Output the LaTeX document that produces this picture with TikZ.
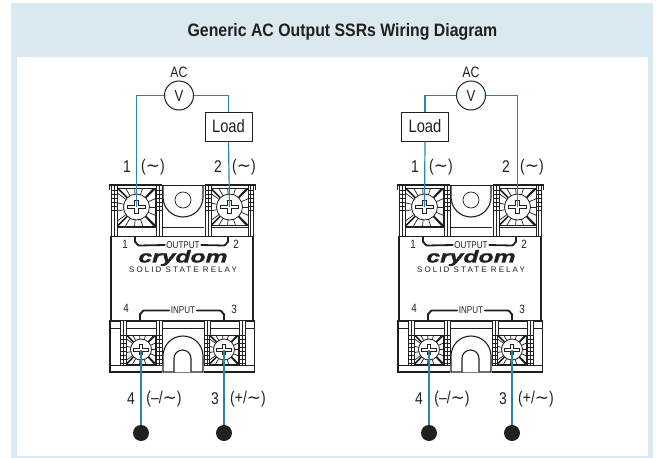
\documentclass[tikz,border=0pt]{standalone}
\usepackage{fontspec}
\setmainfont[FakeStretch=0.82]{Liberation Sans}
\newfontfamily\titlefont[FakeStretch=0.88]{Liberation Sans}
\newfontfamily\symfont{DejaVu Sans}
\newfontfamily\crydomfont[FakeStretch=1.45,FakeBold=1.5]{Liberation Sans}
\newfontfamily\spacedfont[LetterSpace=26]{Liberation Sans}
\definecolor{panel}{HTML}{D9E9EF}
\definecolor{wire}{HTML}{2C84AC}
\definecolor{ink}{HTML}{231F20}
\newcommand{\wav}{{\symfont ∼}}
\tikzset{
  x=1pt,y=-1pt,
  wireline/.style={wire,line width=1.2pt},
  lab/.style={font=\fontsize{17}{17}\selectfont,text=ink,inner sep=0pt},
  tiny/.style={font=\fontsize{9.8}{10}\selectfont,text=ink,inner sep=0pt},
  pinno/.style={font=\fontsize{12}{12}\selectfont,text=ink,inner sep=0pt},
  body/.style={ink,line width=0.8pt},
  heavy/.style={ink,line width=1.8pt,line cap=round,line join=round},
  loadbox/.style={draw=ink,line width=1pt,fill=white,minimum width=47pt,minimum height=29pt,inner sep=0pt,font=\fontsize{18}{18}\selectfont,text=ink},
  meter/.style={circle,draw=ink,line width=1pt,fill=white,minimum size=29pt,inner sep=0pt,font=\fontsize{16}{16}\selectfont,text=ink},
  endpoint/.style={circle,fill=ink,minimum size=16pt,inner sep=0pt},
  screwnode/.style={circle,minimum size=2pt,inner sep=0pt},
}
% screw: #1 name, #2 cx, #3 cy, #4 half box, #5 radius
\newcommand{\screw}[5]{%
  \begin{scope}[shift={(#2,#3)}]
    \begin{scope}
      \clip (-#4,-#4) rectangle (#4,#4);
      \fill[white] (-#4,-#4) rectangle (#4,#4);
      \foreach \a in {0,24,...,336}
        \draw[ink,line width=0.7pt] (0,0) -- (\a:#4*1.5);
      \foreach \a in {45,135,225,315}
        \draw[ink,line width=1.5pt] (0,0) -- (\a:#4*1.5);
    \end{scope}
    \draw[body] (-#4,-#4) rectangle (#4,#4);
    \fill[white] (0,0) circle (#5);
    \draw[ink,line width=0.8pt] (0,0) circle (#5);
    \draw[ink,line width=0.8pt,fill=white] (-#5*0.72,-1.6) -- (-1.8,-1.6) -- (-1.8,-#5*0.5) -- (1.8,-#5*0.5) -- (1.8,-1.6) -- (#5*0.72,-1.6) -- (#5*0.72,1.6) -- (1.8,1.6) -- (1.8,#5*0.5) -- (-1.8,#5*0.5) -- (-1.8,1.6) -- (-#5*0.72,1.6) -- cycle;
    \node[screwnode] (#1) at (0,0) {};
  \end{scope}}
% ribbed column: x #1 to #2, y #3 to #4, cross ticks from y #5 to y #6
\newcommand{\rib}[6]{%
  \fill[white] (#1,#3) rectangle (#2,#4);
  \draw[ink,line width=1pt] (#1,#3) -- (#1,#4) (#2,#3) -- (#2,#4);
  \draw[ink,line width=0.8pt] ({(#1+#2)/2},#3) -- ({(#1+#2)/2},#4);
  \pgfmathsetmacro{\ynext}{#5+4}
  \foreach \yy in {#5,\ynext,...,#6}
    \draw[ink,line width=0.5pt] (#1,\yy) -- (#2,\yy);}
% relay: #1 prefix, #2 x shift
\newcommand{\relay}[2]{%
\begin{scope}[xshift=#2 pt]
  % body
  \draw[body,line width=1.1pt] (111,236) -- (111,321) (253,236) -- (253,321);
  % top blocks
  \draw[body] (162,185) -- (205,185);
  \draw[body] (162,185) -- (162,236) (205,185) -- (205,236);
  \draw[body,line width=1.1pt] (163,186) -- (163,197) arc[start angle=180,end angle=0,radius=20] -- (203,186);
  \draw[body] (163,227) -- (204,227);
  \draw[body] (111,236) -- (253,236);
  \rib{111}{117}{186}{236}{190}{212}
  \rib{156}{162}{186}{236}{190}{212}
  \rib{205}{211}{186}{236}{190}{212}
  \rib{248}{253}{186}{236}{190}{212}
  \screw{#1s1}{136.5}{207}{19}{13}
  \screw{#1s2}{229.5}{207}{18.5}{13}
  \fill[white] (118,226.5) rectangle (155,235.5);
  \fill[white] (212,226.5) rectangle (247,235.5);
  \draw[body] (117,227) -- (156,227) (211,227) -- (248,227);
  \draw[ink,line width=2.4pt] (109,185) -- (162,185) (205,185) -- (256,185);
  \draw[ink,line width=1.4pt] (109.5,185) -- (109.5,190) (255.5,185) -- (255.5,190);
  \node[circle,draw=ink,line width=0.7pt,minimum size=16pt,inner sep=0pt] (#1hole) at (183,200) {};
  % output marking
  \node[pinno] (#1t1) at (125,244) {1};
  \node[pinno] (#1t2) at (236,244) {2};
  \node[tiny] (#1out) at (183,245) {OUTPUT};
  \draw[heavy] (135,237) -- (135,242) to[out=90,in=180] (139,245.5) -- ([xshift=-1.5pt]#1out.west);
  \draw[heavy] ([xshift=1.5pt]#1out.east) -- (224,245.5) to[out=0,in=90] (228,242) -- (228,237);
  \node[inner sep=0pt,text=ink,font=\crydomfont\bfseries\itshape\fontsize{17}{17}\selectfont] (#1brand) at (183,258) {crydom};
  \node[inner sep=0pt,text=ink,font=\spacedfont\fontsize{8}{8}\selectfont] (#1ssr) at (183,270) {SOLID STATE RELAY};
  % input marking
  \node[pinno] (#1t4) at (126,308) {4};
  \node[pinno] (#1t3) at (234,309) {3};
  \node[tiny] (#1in) at (183,310.5) {INPUT};
  \draw[heavy] (140,320) -- (140,314) to[out=-90,in=180] (144,310.5) -- ([xshift=-1.5pt]#1in.west);
  \draw[heavy] ([xshift=1.5pt]#1in.east) -- (220,310.5) to[out=0,in=-90] (224,314) -- (224,320);
  % lower block
  \draw[body,line width=1.2pt] (204,372) -- (254.5,372) -- (254.5,321) -- (110,321) -- (110,372) -- (162,372);
  \draw[body] (110,328) -- (254,328) (110,365) -- (162,365) (204,365) -- (254,365);
  \draw[body,line width=1.1pt,fill=white] (163,372) -- (163,356) arc[start angle=180,end angle=360,radius=20] -- (203,372) -- cycle;
  \draw[body,line width=1.1pt,fill=white] (174,372) -- (174,358.5) arc[start angle=180,end angle=360,radius=8.5] -- (191,372);
  \rib{120}{126}{321}{365}{335}{363}
  \rib{156}{162}{321}{365}{335}{363}
  \rib{204}{210}{321}{365}{335}{363}
  \rib{239}{245}{321}{365}{335}{363}
  \screw{#1s4}{141}{349.5}{14.5}{10.5}
  \screw{#1s3}{224}{349.5}{14.5}{10.5}
  \fill[white] (127,321.6) rectangle (155,328);
  \fill[white] (211,321.6) rectangle (238,328);
  \draw[body] (126,328) -- (156,328) (210,328) -- (239,328);
  % terminal labels
  \node[lab] (#1l1) at (127,167) {1};
  \node[lab] (#1a1) at (153,167) {(\wav)};
  \node[lab] (#1l2) at (218,167) {2};
  \node[lab] (#1a2) at (244,167) {(\wav)};
  \node[lab] (#1l4) at (131,399) {4};
  \node[lab] (#1a4) at (164,399) {(–/\wav)};
  \node[lab] (#1l3) at (215,399) {3};
  \node[lab] (#1a3) at (248,399) {(+/\wav)};
  % lower wires and end points
  \node[endpoint] (#1e4) at (141,433) {};
  \node[endpoint] (#1e3) at (224,433) {};
  \draw[wireline] (#1s4.center) -- (#1e4);
  \draw[wireline] (#1s3.center) -- (#1e3);
\end{scope}}
\begin{document}
\begin{tikzpicture}
\useasboundingbox (0,0) rectangle (657,458);
\fill[panel] (11,3) rectangle (653,458);
\fill[white] (17,57) rectangle (648,456);
\node[inner sep=0pt,text=ink,font=\titlefont\bfseries\fontsize{18}{18}\selectfont] (title) at (342.5,32) {Generic AC Output SSRs Wiring Diagram};

\relay{a}{0}
\relay{b}{288}

% left circuit
\node[lab,font=\fontsize{15}{15}\selectfont] (aac) at (179,72) {AC};
\node[meter] (av) at (179,95.5) {V};
\node[loadbox] (aload) at (228.5,126.5) {Load};
\draw[wireline] (av.west) -- (as1 |- av.west) -- (as1.center);
\draw[wireline] (av.east) -- (aload.north |- av.east) -- (aload.north);
\draw[wireline] (aload.south) -- (as2.center);

% right circuit
\node[lab,font=\fontsize{15}{15}\selectfont] (bac) at (471,72) {AC};
\node[meter] (bv) at (471,95.5) {V};
\node[loadbox] (bload) at (425,126.5) {Load};
\draw[wireline] (bv.east) -- (bs2 |- bv.east) -- (bs2.center);
\draw[wireline] (bv.west) -- (bload.north |- bv.west) -- (bload.north);
\draw[wireline] (bload.south) -- (bs1.center);
\end{tikzpicture}
\end{document}
